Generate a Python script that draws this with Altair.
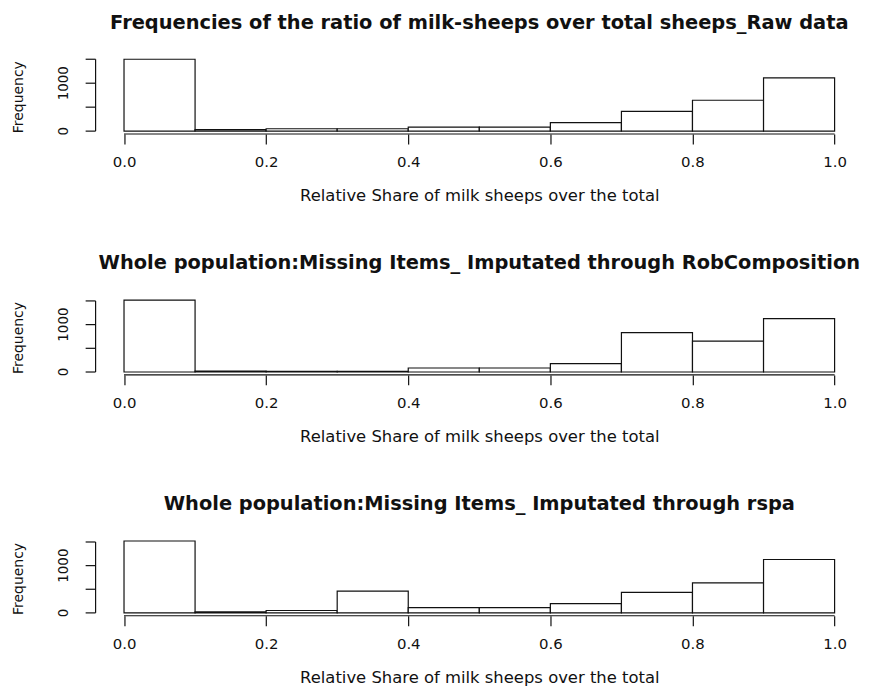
import altair as alt
import pandas as pd

bin_starts = [0.0, 0.1, 0.2, 0.3, 0.4, 0.5, 0.6, 0.7, 0.8, 0.9]
bin_ends = [0.1, 0.2, 0.3, 0.4, 0.5, 0.6, 0.7, 0.8, 0.9, 1.0]

raw_counts = [1500, 30, 50, 50, 85, 85, 178, 411, 644, 1110]
robcomp_counts = [1517, 20, 15, 12, 85, 85, 177, 830, 651, 1128]
rspa_counts = [1521, 20, 50, 460, 113, 113, 197, 433, 636, 1130]

titles = [
    "Frequencies of the ratio of milk-sheeps over total sheeps_Raw data",
    "Whole population:Missing Items_ Imputated through RobComposition",
    "Whole population:Missing Items_ Imputated through rspa",
]
x_title = "Relative Share of milk sheeps over the total"
y_title = "Frequency"
x_ticks = [0.0, 0.2, 0.4, 0.6, 0.8, 1.0]
y_ticks = [0, 500, 1000, 1500]
y_labels = ["0", "1000"]
y_label_values = [0, 1000]

FONT = "DejaVu Sans"
INK = "#111"
W, H = 771, 78


def panel(counts, title):
    df = pd.DataFrame({"start": bin_starts, "end": bin_ends, "count": counts})
    ymax = max(counts)
    xs = alt.Scale(domain=[-0.04, 1.04], nice=False, zero=False)
    ys = alt.Scale(domain=[-0.04 * ymax, 1.04 * ymax], nice=False, zero=False)

    bars = alt.Chart(df).mark_rect(fill="white", stroke=INK, strokeWidth=1.2).encode(
        x=alt.X("start:Q", scale=xs, title=x_title,
                axis=alt.Axis(values=x_ticks, format=".1f", domain=False, grid=False,
                              tickSize=10, tickWidth=1.2, tickColor=INK,
                              labelFont=FONT, labelFontSize=15, labelColor=INK,
                              labelPadding=11, titleFont=FONT, titleFontSize=16.5,
                              titleFontWeight="normal", titleColor=INK,
                              titlePadding=18)),
        x2="end:Q",
        y=alt.Y("count:Q", scale=ys, axis=None),
        y2="zero:Q",
    ).transform_calculate(zero="0")
    one = pd.DataFrame({"k": [0]})
    xrule = alt.Chart(one).mark_rule(color=INK, strokeWidth=1.2).encode(
        x=alt.datum(x_ticks[0]), x2=alt.datum(x_ticks[-1]), y=alt.value(H))
    span = pd.DataFrame({"lo": [y_ticks[0]], "hi": [y_ticks[-1]]})
    yrule = alt.Chart(span).mark_rule(color=INK, strokeWidth=1.2).encode(
        y=alt.Y("lo:Q", scale=ys, axis=None), y2="hi:Q", x=alt.value(0))
    yticks = alt.Chart(pd.DataFrame({"v": y_ticks})).mark_rule(
        color=INK, strokeWidth=1.2).encode(
        y=alt.Y("v:Q", scale=ys, axis=None), x=alt.value(-10), x2=alt.value(0))
    ylabs = alt.Chart(pd.DataFrame({"v": y_label_values, "t": y_labels})).mark_text(
        angle=270, align="center", baseline="middle", font=FONT, fontSize=13.5,
        color=INK).encode(
        y=alt.Y("v:Q", scale=ys, axis=None), x=alt.value(-31.6), text="t:N")
    ytitle = alt.Chart(pd.DataFrame({"t": [y_title]})).mark_text(
        angle=270, align="center", baseline="middle", font=FONT, fontSize=14,
        color=INK).encode(
        x=alt.value(-76.6), y=alt.value(H / 2 + 2), text="t:N")
    return alt.layer(bars, xrule, yrule, yticks, ylabs, ytitle).properties(
        width=W, height=H,
        title=alt.TitleParams(title, font=FONT, fontSize=19.5, fontWeight="bold",
                              color=INK, anchor="middle", baseline="alphabetic",
                              offset=8.4),
    )


chart = alt.vconcat(
    panel(raw_counts, titles[0]),
    panel(robcomp_counts, titles[1]),
    panel(rspa_counts, titles[2]),
    spacing=49,
    padding={"left": 4, "top": 3, "right": 5, "bottom": 5},
    background="white",
).configure_view(stroke="transparent", strokeWidth=0)

chart.save("out.html", embed_options={"renderer": "svg", "actions": False})
